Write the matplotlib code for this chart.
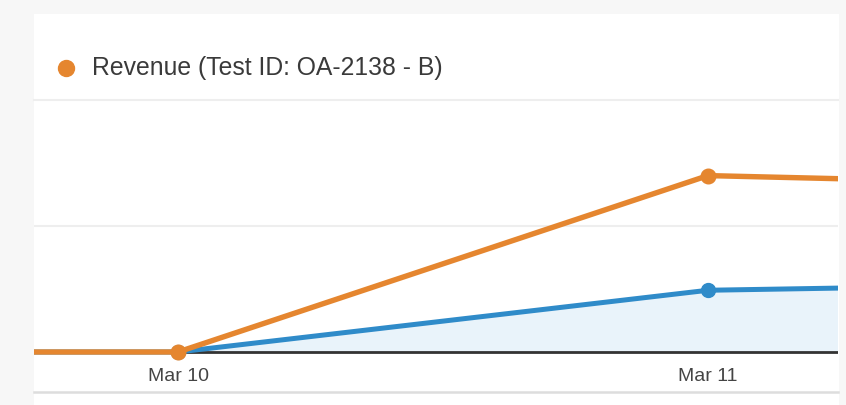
import matplotlib
matplotlib.use("Agg")
import matplotlib.pyplot as plt
from matplotlib.patches import Rectangle
from matplotlib.lines import Line2D

# Data (day index: Mar 9 = -1, Mar 10 = 0, Mar 11 = 1, Mar 12 = 2)
days = [-1, 0, 1, 2]
tick_days = [0, 1]
tick_labels = ["Mar 10", "Mar 11"]
revenue_b = [0.0, 0.0, 1.40, 1.30]
revenue_a = [0.0, 0.0, 0.49, 0.56]
legend_label = "Revenue (Test ID: OA-2138 - B)"

W, H = 846, 405
orange = "#e5862f"
blue = "#2f8bc9"
fill_blue = "#e9f3fa"

plt.rcParams["font.family"] = ["Liberation Sans", "DejaVu Sans"]
fig = plt.figure(figsize=(W / 100, H / 100), dpi=100)
fig.patch.set_facecolor("#f7f7f7")

def fx(px):
    return px / W

def fy(py):
    return 1 - py / H

# white panel
panel = Rectangle((fx(34), 0), fx(839) - fx(34), fy(14), transform=fig.transFigure,
                  facecolor="white", edgecolor="none", zorder=-10)
fig.patches.append(panel)

# plot axes: x 34..838, y 100..362 (zero line at 352, 126 px per unit)
ax = fig.add_axes([fx(34), fy(362), fx(838) - fx(34), fy(100) - fy(362)])
ax.set_zorder(5)
ax.set_facecolor("none")
x0 = (34 - 178) / 530
x1 = (838 - 178) / 530
ax.set_xlim(x0, x1)
ax.set_ylim(-10 / 126, 2)

for s in ax.spines.values():
    s.set_visible(False)
ax.set_yticks([])
ax.set_xticks(tick_days)
ax.set_xticklabels(tick_labels, fontsize=14, color="#444444")
ax.tick_params(axis="x", length=0, pad=4.5)

# gridlines
ax.axhline(1, color="#eeeeee", lw=1.5, zorder=1)
ax.axhline(2, color="#eeeeee", lw=1.5, zorder=1, clip_on=False)

ax.fill_between(days, revenue_a, 0, color=fill_blue, zorder=1.5, lw=0)
ax.axhline(0, color="#333333", lw=2, zorder=2)
ax.plot(days, revenue_a, color=blue, lw=3.6, marker="o", ms=10, zorder=3, solid_capstyle="butt")
ax.plot(days, revenue_b, color=orange, lw=3.9, marker="o", ms=10.5, zorder=4, solid_capstyle="butt")

# bottom separator line
fig.add_artist(Line2D([fx(34), fx(838)], [fy(392), fy(392)], transform=fig.transFigure,
                      color="#dddddd", lw=1.8))

# legend
fig.add_artist(Line2D([fx(66)], [fy(68)], transform=fig.transFigure, marker="o",
                      ms=11.5, color=orange, lw=0))
fig.text(fx(92), fy(68), legend_label, fontsize=17.8, color="#3a3a3a", va="center", ha="left")

fig.savefig("out.png", dpi=100, facecolor=fig.get_facecolor())
